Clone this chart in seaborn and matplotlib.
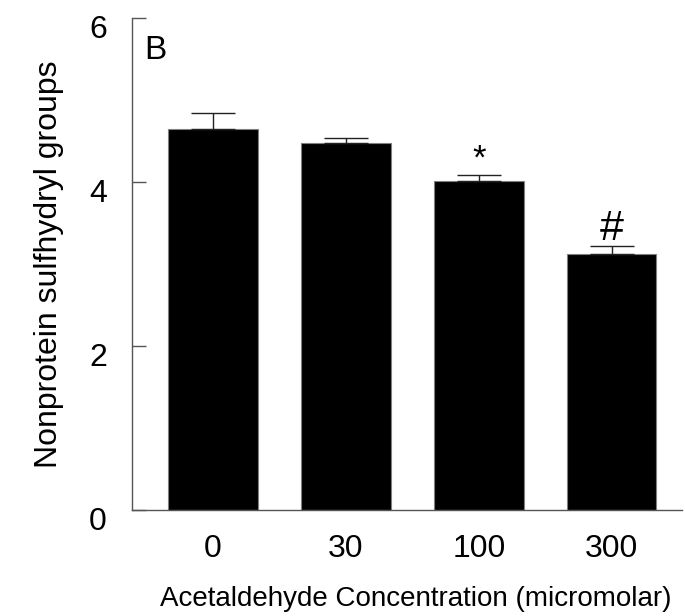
import numpy as np
import pandas as pd
import matplotlib
matplotlib.use('Agg')
import matplotlib.pyplot as plt
import matplotlib.transforms as mtransforms
import seaborn as sns

# dados
concentrations = ['0', '30', '100', '300']
npsh_mean = [4.64, 4.48, 4.01, 3.12]
npsh_err = [0.20, 0.05, 0.08, 0.10]
markers = ['', '', '*', '#']

df = pd.DataFrame({'conc': concentrations, 'npsh': npsh_mean})

sns.set_style('ticks')
plt.rcParams['font.family'] = ['Liberation Sans', 'DejaVu Sans']
plt.rcParams['text.color'] = 'black'
plt.rcParams['axes.labelcolor'] = 'black'

fig = plt.figure(figsize=(6.85, 6.16), dpi=100)
ax = fig.add_axes([0.1927, 0.172, 0.803, 0.799])

sns.barplot(data=df, x='conc', y='npsh', color='black', width=0.675,
            edgecolor='#808080', linewidth=0.8, saturation=1, errorbar=None, ax=ax)

xpos = np.arange(len(concentrations))
ax.errorbar(xpos, npsh_mean, yerr=[np.zeros(len(npsh_err)), npsh_err], fmt='none',
            ecolor='#222222', elinewidth=1.0, capsize=16, capthick=1.0, zorder=3)

# marcadores de significancia
for i, m in enumerate(markers):
    if m == '*':
        ax.text(xpos[i], npsh_mean[i] + npsh_err[i] + 0.07, m, ha='center', va='baseline', fontsize=25)
    elif m == '#':
        ax.text(xpos[i], npsh_mean[i] + npsh_err[i] + 0.07, m, ha='center', va='baseline', fontsize=31)

ax.text(-0.52, 5.79, 'B', ha='left', va='top', fontsize=24)

ax.set_ylim(0, 6)
ax.set_xlim(-0.61, 3.53)
ax.set_yticks([0, 2, 4, 6])
ax.tick_params(axis='y', direction='in', length=10, width=1, color='#555555',
               labelcolor='black', labelsize=23, pad=18)
ax.tick_params(axis='x', length=0, labelcolor='black', labelsize=23, pad=17)

# rotulos do eixo y um pouco abaixo da marca, como no original
offset = mtransforms.ScaledTranslation(0, -6 / 72, fig.dpi_scale_trans)
for lab in ax.get_yticklabels():
    lab.set_transform(lab.get_transform() + offset)

ax.set_ylabel('Nonprotein sulfhydryl groups', fontsize=23, labelpad=18)
ax.set_xlabel('Acetaldehyde Concentration (micromolar)', fontsize=20, labelpad=12)
ax.xaxis.set_label_coords(0.515, -0.155)

sns.despine(ax=ax)
for s in ['left', 'bottom']:
    ax.spines[s].set_color('#555555')
    ax.spines[s].set_linewidth(1)

plt.savefig('out.png', dpi=100)
